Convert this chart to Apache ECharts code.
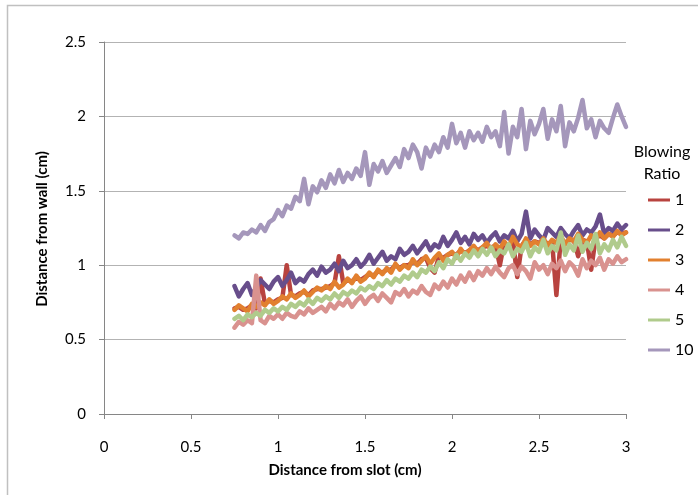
<!DOCTYPE html>
<html>
<head>
<meta charset="utf-8">
<script src="https://cdn.jsdelivr.net/npm/echarts@6/dist/echarts.min.js"></script>
<style>html,body{margin:0;padding:0;background:#fff;}#c{width:698px;height:495px;}</style>
</head>
<body>
<div id="c"></div>
<script>
var xs = [0.75,0.775,0.8,0.825,0.85,0.875,0.9,0.925,0.95,0.975,
1.0,1.025,1.05,1.075,1.1,1.125,1.15,1.175,1.2,1.225,
1.25,1.275,1.3,1.325,1.35,1.375,1.4,1.425,1.45,1.475,
1.5,1.525,1.55,1.575,1.6,1.625,1.65,1.675,1.7,1.725,
1.75,1.775,1.8,1.825,1.85,1.875,1.9,1.925,1.95,1.975,
2.0,2.025,2.05,2.075,2.1,2.125,2.15,2.175,2.2,2.225,
2.25,2.275,2.3,2.325,2.35,2.375,2.4,2.425,2.45,2.475,
2.5,2.525,2.55,2.575,2.6,2.625,2.65,2.675,2.7,2.725,
2.75,2.775,2.8,2.825,2.85,2.875,2.9,2.925,2.95,2.975,3.0];

var ratio1 = [0.71,0.72,0.70,0.71,0.73,0.71,0.91,0.74,0.76,0.75,
0.77,0.78,1.00,0.80,0.79,0.81,0.82,0.80,0.83,0.84,
0.84,0.85,0.86,0.88,1.06,0.88,0.90,0.89,0.92,0.90,
0.92,0.94,0.93,0.96,0.95,0.97,0.97,1.00,0.98,1.00,
1.00,1.02,1.01,1.04,1.05,0.98,0.95,1.06,1.05,1.07,
1.08,1.07,1.10,1.08,1.10,1.12,1.10,1.12,1.13,1.12,
1.13,1.00,1.15,1.13,1.17,0.92,1.13,1.17,1.14,1.16,
1.15,1.17,1.14,1.16,0.80,1.18,1.15,1.17,1.17,1.06,
1.17,1.16,0.97,1.18,1.20,1.18,1.21,1.20,1.22,1.21,1.22];

var ratio2 = [0.86,0.79,0.84,0.88,0.80,0.85,0.90,0.87,0.84,0.89,
0.92,0.86,0.90,0.95,0.88,0.91,0.89,0.94,0.97,0.93,
0.99,0.95,0.97,1.01,0.96,1.03,0.98,1.00,1.04,0.99,
1.02,1.07,1.01,1.05,1.09,1.03,1.06,1.04,1.11,1.07,
1.09,1.13,1.08,1.12,1.16,1.10,1.14,1.12,1.19,1.13,
1.17,1.22,1.15,1.19,1.14,1.21,1.17,1.20,1.15,1.19,
1.22,1.16,1.20,1.18,1.23,1.16,1.21,1.36,1.18,1.24,
1.20,1.17,1.25,1.22,1.19,1.25,1.21,1.18,1.23,1.27,
1.20,1.24,1.22,1.26,1.34,1.21,1.25,1.23,1.28,1.24,1.27];

var ratio3 = [0.70,0.73,0.71,0.69,0.74,0.72,0.75,0.73,0.77,0.74,
0.76,0.79,0.77,0.81,0.78,0.80,0.83,0.79,0.82,0.85,
0.83,0.86,0.84,0.89,0.85,0.87,0.91,0.88,0.93,0.89,
0.91,0.95,0.92,0.97,0.94,0.98,0.95,1.01,0.97,1.00,
0.98,1.04,1.00,1.03,1.06,1.01,1.05,1.08,1.03,1.07,
1.09,1.05,1.11,1.07,1.10,1.13,1.09,1.12,1.15,1.10,
1.14,1.11,1.16,1.12,1.19,1.14,1.12,1.18,1.13,1.16,
1.14,1.18,1.13,1.17,1.15,1.20,1.14,1.18,1.16,1.21,
1.17,1.15,1.20,1.17,1.22,1.18,1.21,1.19,1.23,1.20,1.22];

var ratio4 = [0.58,0.62,0.60,0.63,0.61,0.93,0.63,0.61,0.66,0.64,
0.67,0.64,0.68,0.66,0.65,0.69,0.67,0.71,0.68,0.70,
0.72,0.69,0.74,0.71,0.75,0.73,0.77,0.72,0.76,0.79,
0.74,0.78,0.80,0.76,0.81,0.78,0.75,0.82,0.80,0.84,
0.79,0.83,0.81,0.86,0.82,0.80,0.87,0.84,0.89,0.85,
0.91,0.87,0.93,0.89,0.95,0.90,0.96,0.93,0.98,0.94,
0.99,0.95,0.92,0.98,1.00,0.94,0.99,0.96,0.91,1.02,
0.97,1.00,0.94,1.01,0.98,1.03,0.96,1.02,0.99,0.93,
1.04,0.98,1.03,1.00,1.05,0.97,1.04,1.01,1.06,1.02,1.04];

var ratio5 = [0.64,0.66,0.63,0.67,0.65,0.68,0.66,0.70,0.68,0.71,
0.69,0.72,0.70,0.74,0.72,0.75,0.73,0.77,0.74,0.78,
0.76,0.79,0.77,0.81,0.78,0.82,0.80,0.83,0.81,0.85,
0.83,0.86,0.84,0.88,0.86,0.90,0.87,0.91,0.89,0.93,
0.91,0.95,0.92,0.97,0.95,0.99,0.96,1.02,0.98,1.04,
1.01,1.07,1.03,1.08,1.05,1.10,1.06,1.11,1.07,1.12,
1.06,1.10,1.08,1.14,1.06,1.11,1.09,1.15,1.06,1.12,
1.09,1.17,1.08,1.13,1.10,1.22,1.07,1.14,1.10,1.20,
1.09,1.15,1.11,1.21,1.08,1.14,1.10,1.17,1.12,1.19,1.13];

var ratio10 = [1.20,1.18,1.22,1.21,1.24,1.22,1.27,1.23,1.29,1.31,
1.37,1.33,1.40,1.38,1.46,1.43,1.58,1.41,1.53,1.49,
1.57,1.52,1.61,1.55,1.64,1.56,1.62,1.58,1.65,1.60,
1.76,1.54,1.68,1.63,1.70,1.62,1.67,1.72,1.66,1.78,
1.72,1.81,1.76,1.65,1.79,1.73,1.81,1.76,1.86,1.79,
1.95,1.82,1.89,1.79,1.90,1.84,1.89,1.83,1.93,1.86,
1.90,1.80,2.03,1.75,1.93,1.86,2.05,1.78,1.97,1.88,
1.95,2.05,1.85,1.98,1.90,2.07,1.80,1.96,1.90,1.99,
2.11,1.92,1.98,1.86,1.97,1.92,1.89,1.99,2.08,2.00,1.93];

var seriesNames = ['1','2','3','4','5','10'];
var seriesValues = [ratio1, ratio2, ratio3, ratio4, ratio5, ratio10];
var seriesColors = ['#B8433F','#684E8B','#E2802F','#D9928F','#B0CB8C','#A597BB'];
var xTicks = {min:0, max:3, interval:0.5};
var yTicks = {min:0, max:2.5, interval:0.5};

var FONT = 'Lato, "Open Sans", sans-serif';
var chart = echarts.init(document.getElementById('c'));
var series = seriesNames.map(function(n, k){
  return {
    name: n, type: 'line', showSymbol: false, symbol: 'none',
    data: xs.map(function(x, i){ return [x, seriesValues[k][i]]; }),
    lineStyle: {width: 4.5, color: seriesColors[k], join: 'round', cap: 'round'},
    itemStyle: {color: seriesColors[k]},
    emphasis: {disabled: true},
    z: 2 + k
  };
});
chart.setOption({
  animation: false,
  backgroundColor: '#fff',
  grid: {left: 104, right: 72, top: 42, bottom: 81, containLabel: false},
  xAxis: {
    type: 'value', min: xTicks.min, max: xTicks.max, interval: xTicks.interval,
    axisLine: {show: true, lineStyle: {color: '#868686', width: 1}},
    axisTick: {show: true, length: 5, lineStyle: {color: '#868686'}},
    splitLine: {show: false},
    axisLabel: {fontSize: 15, color: '#000', margin: 26, fontFamily: FONT}
  },
  yAxis: {
    type: 'value', min: yTicks.min, max: yTicks.max, interval: yTicks.interval,
    axisLine: {show: true, lineStyle: {color: '#868686', width: 1}},
    axisTick: {show: true, length: 5, lineStyle: {color: '#868686'}},
    splitLine: {show: true, lineStyle: {color: '#b3b3b3', width: 1}},
    axisLabel: {fontSize: 15, color: '#000', margin: 18, fontFamily: FONT}
  },
  legend: {
    orient: 'vertical', left: 643, top: 187,
    itemWidth: 22, itemHeight: 3, itemGap: 14, icon: 'rect',
    textStyle: {fontSize: 16, lineHeight: 16, color: '#000', fontFamily: FONT},
    data: seriesNames
  },
  graphic: [
    {type: 'rect', shape: {x: 7.5, y: 5.5, width: 720, height: 520},
     style: {fill: 'none', stroke: '#c0c0c0', lineWidth: 1.5}, silent: true},
    {type: 'text', x: 42, y: 229, rotation: Math.PI/2,
     style: {text: 'Distance from wall (cm)', font: 'bold 15px ' + FONT, fill: '#000',
             textAlign: 'center', textVerticalAlign: 'middle'}},
    {type: 'text', x: 345, y: 470,
     style: {text: 'Distance from slot (cm)', font: 'bold 15px ' + FONT, fill: '#000',
             textAlign: 'center', textVerticalAlign: 'middle'}},
    {type: 'text', x: 662, y: 152,
     style: {text: 'Blowing', font: '16px ' + FONT, fill: '#000',
             textAlign: 'center', textVerticalAlign: 'middle'}},
    {type: 'text', x: 662, y: 174,
     style: {text: 'Ratio', font: '16px ' + FONT, fill: '#000',
             textAlign: 'center', textVerticalAlign: 'middle'}}
  ],
  series: series
});
</script>
</body>
</html>
